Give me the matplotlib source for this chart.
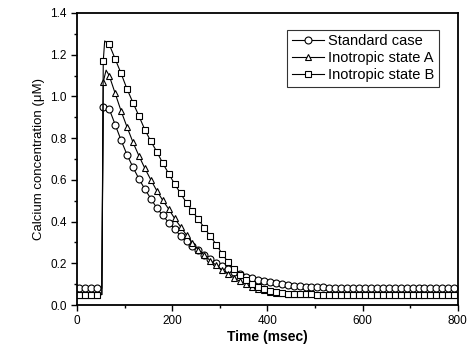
import numpy as np
import matplotlib
matplotlib.use("Agg")
import matplotlib.pyplot as plt
from matplotlib.ticker import MultipleLocator

plt.rcParams["font.family"] = ["Liberation Sans", "DejaVu Sans"]

# marker times (msec), one sample every 12.5 ms
t_marks = np.arange(5, 800, 12.5)
onset = 52.0

# calcium concentration (uM) read at each marker time
standard = [0.08, 0.08, 0.08, 0.08, 0.95, 0.94, 0.865, 0.79, 0.72, 0.66,
            0.605, 0.555, 0.51, 0.465, 0.43, 0.395, 0.365, 0.33, 0.305, 0.285,
            0.263, 0.24, 0.22, 0.20, 0.186, 0.175, 0.16, 0.148, 0.136, 0.128,
            0.12, 0.114, 0.108, 0.104, 0.10, 0.096, 0.093, 0.09, 0.088, 0.086,
            0.085, 0.084, 0.083, 0.082, 0.082, 0.081, 0.081, 0.08, 0.08, 0.08,
            0.08, 0.08, 0.08, 0.08, 0.08, 0.08, 0.08, 0.08, 0.08, 0.08,
            0.08, 0.08, 0.08, 0.08]
state_a = [0.05, 0.05, 0.05, 0.05, 1.07, 1.10, 1.015, 0.93, 0.853, 0.78,
           0.715, 0.655, 0.60, 0.548, 0.502, 0.46, 0.415, 0.375, 0.335, 0.295,
           0.265, 0.238, 0.213, 0.19, 0.168, 0.148, 0.13, 0.113, 0.10, 0.088,
           0.078, 0.07, 0.064, 0.06, 0.057, 0.055, 0.053, 0.052, 0.051, 0.051,
           0.05, 0.05, 0.05, 0.05, 0.05, 0.05, 0.05, 0.05, 0.05, 0.05,
           0.05, 0.05, 0.05, 0.05, 0.05, 0.05, 0.05, 0.05, 0.05, 0.05,
           0.05, 0.05, 0.05, 0.05]
state_b = [0.05, 0.05, 0.05, 0.05, 1.17, 1.25, 1.18, 1.11, 1.035, 0.97,
           0.906, 0.84, 0.785, 0.735, 0.68, 0.63, 0.58, 0.535, 0.49, 0.45,
           0.41, 0.37, 0.33, 0.29, 0.245, 0.205, 0.172, 0.145, 0.122, 0.103,
           0.088, 0.077, 0.068, 0.062, 0.058, 0.055, 0.053, 0.052, 0.051, 0.051,
           0.05, 0.05, 0.05, 0.05, 0.05, 0.05, 0.05, 0.05, 0.05, 0.05,
           0.05, 0.05, 0.05, 0.05, 0.05, 0.05, 0.05, 0.05, 0.05, 0.05,
           0.05, 0.05, 0.05, 0.05]

# peak of the transient (time, value) between markers
peaks = {"standard": (57, 0.96), "a": (61, 1.126), "b": (58, 1.266)}

series = [
    ("Standard case", standard, "o", peaks["standard"]),
    ("Inotropic state A", state_a, "^", peaks["a"]),
    ("Inotropic state B", state_b, "s", peaks["b"]),
]

fig = plt.figure(figsize=(4.7, 3.51), dpi=100)
ax = fig.add_axes([0.164, 0.131, 0.81, 0.832])

for label, vals, mk, (tp, vp) in series:
    vals = np.array(vals)
    # line with the stimulus step and peak added
    pre = t_marks < onset
    tl = np.concatenate([t_marks[pre], [onset, tp], t_marks[~pre]])
    yl = np.concatenate([vals[pre], [vals[0], vp], vals[~pre]])
    order = np.argsort(tl, kind="stable")
    ax.plot(tl[order], yl[order], color="black", lw=0.8)
    ax.plot(t_marks, vals, linestyle="none", marker=mk, markersize=5,
            markerfacecolor="white", markeredgecolor="black", markeredgewidth=0.8)
    ax.plot([], [], color="black", lw=0.8, marker=mk, markersize=5,
            markerfacecolor="white", markeredgecolor="black",
            markeredgewidth=0.8, label=label)

ax.set_xlim(0, 800)
ax.set_ylim(0, 1.4)
ax.xaxis.set_major_locator(MultipleLocator(200))
ax.xaxis.set_minor_locator(MultipleLocator(100))
ax.yaxis.set_major_locator(MultipleLocator(0.2))
ax.yaxis.set_minor_locator(MultipleLocator(0.1))
ax.yaxis.set_major_formatter(plt.FormatStrFormatter("%.1f"))
ax.tick_params(which="major", direction="out", length=4, width=1, labelsize=8.5)
ax.tick_params(which="minor", direction="out", length=2.5, width=1)
for sp in ax.spines.values():
    sp.set_linewidth(1.3)

ax.set_xlabel("Time (msec)", fontsize=10, fontweight="bold", labelpad=2)
ax.set_ylabel("Calcium concentration (μM)", fontsize=9.5)

leg = ax.legend(loc="upper right", bbox_to_anchor=(0.95, 0.942), fontsize=10.5,
                frameon=True, fancybox=False, handlelength=2.2,
                handletextpad=0.3, borderpad=0.3, labelspacing=0.2,
                borderaxespad=0.0)
leg.get_frame().set_edgecolor("black")
leg.get_frame().set_linewidth(0.8)

fig.savefig("out.png", dpi=100)
